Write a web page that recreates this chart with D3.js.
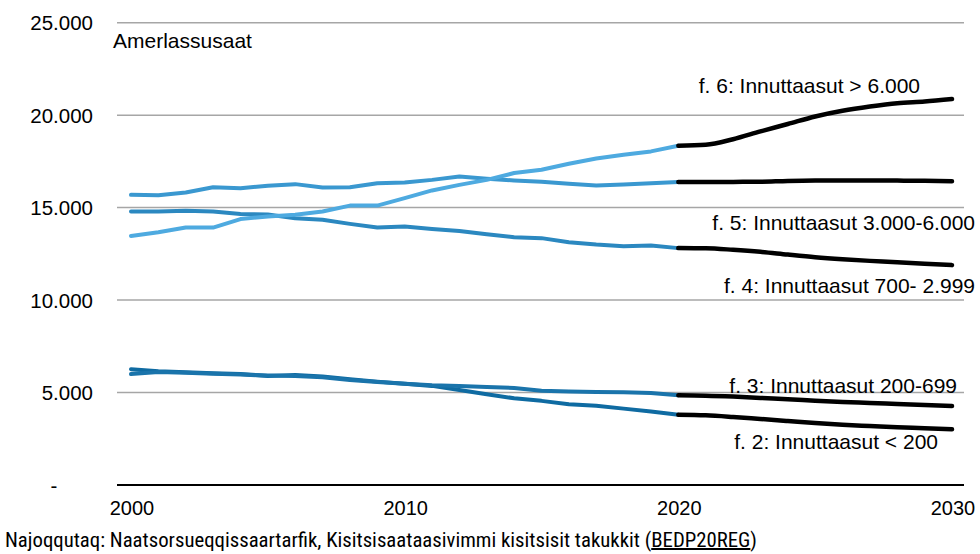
<!DOCTYPE html>
<html>
<head>
<meta charset="utf-8">
<script src="https://cdn.jsdelivr.net/npm/d3@7"></script>
<style>
    body { margin: 0; background: #fff; }
    svg { display: block; }
    text { font-family: "Liberation Sans", Arial, sans-serif; fill: #000; }
</style>
</head>
<body>
<svg id="chart" width="980" height="554"></svg>
<script>
// ====
// DATA
// ====
var histYears = d3.range(2000, 2021);
var projYears = d3.range(2020, 2031);
var yTicks = [0, 5000, 10000, 15000, 20000, 25000];
var xTicks = [2000, 2010, 2020, 2030];

// historic values 2000-2020
var hist6 = [13470, 13670, 13920, 13920, 14380, 14520, 14610, 14790, 15110, 15110, 15510, 15930, 16230, 16500, 16870, 17050, 17370, 17660, 17860, 18040, 18350];
var hist5 = [15690, 15670, 15820, 16100, 16050, 16180, 16270, 16090, 16100, 16320, 16360, 16500, 16680, 16560, 16470, 16400, 16290, 16200, 16250, 16320, 16380];
var hist4 = [14790, 14790, 14830, 14790, 14650, 14630, 14430, 14340, 14120, 13920, 13980, 13850, 13740, 13560, 13400, 13350, 13130, 13000, 12910, 12950, 12810];
var hist3 = [6000, 6110, 6070, 6020, 5970, 5920, 5900, 5830, 5680, 5570, 5470, 5390, 5360, 5300, 5250, 5100, 5050, 5030, 5020, 4980, 4850];
var hist2 = [6260, 6150, 6100, 6040, 6000, 5900, 5950, 5870, 5720, 5590, 5480, 5360, 5140, 4910, 4690, 4550, 4370, 4290, 4130, 3970, 3800];

// projections 2020-2030
var proj6 = [18350, 18400, 18700, 19120, 19520, 19930, 20240, 20470, 20650, 20740, 20870];
var proj5 = [16380, 16380, 16390, 16400, 16440, 16460, 16470, 16470, 16460, 16450, 16430];
var proj4 = [12810, 12800, 12720, 12610, 12460, 12320, 12210, 12120, 12050, 11960, 11890];
var proj3 = [4850, 4830, 4780, 4710, 4640, 4560, 4490, 4440, 4380, 4330, 4270];
var proj2 = [3800, 3770, 3680, 3570, 3460, 3350, 3260, 3190, 3120, 3070, 3010];

var seriesNames = ["f. 2: Innuttaasut < 200", "f. 3: Innuttaasut 200-699", "f. 4: Innuttaasut 700- 2.999", "f. 5: Innuttaasut 3.000-6.000", "f. 6: Innuttaasut > 6.000"];
var seriesColors = ["#0f6ba2", "#1a74ab", "#2b88c0", "#3a98d0", "#4eaae0"];

// ====
// MAIN
// ====
var svg = d3.select("#chart");

var x = d3.scalePoint().domain(d3.range(2000, 2031)).range([131, 952]);
var y = d3.scaleLinear().domain([0, 25000]).range([485, 22.7]);
var gridLeft = 117, gridRight = 964;

var fmt = function (v) {
    if (v === 0) return "-";
    return d3.format(",")(v).replace(/,/g, ".");
};

// gridlines
svg.append("g")
    .selectAll("line")
    .data(yTicks.filter(function (d) { return d > 0; }))
    .enter().append("line")
    .attr("x1", gridLeft)
    .attr("x2", gridRight)
    .attr("y1", function (d) { return y(d); })
    .attr("y2", function (d) { return y(d); })
    .attr("stroke", "#a6a6a6")
    .attr("stroke-width", 1.5);

// baseline
svg.append("line")
    .attr("x1", gridLeft)
    .attr("x2", gridRight)
    .attr("y1", y(0))
    .attr("y2", y(0))
    .attr("stroke", "#000")
    .attr("stroke-width", 2);

// y axis labels
svg.append("g")
    .selectAll("text")
    .data(yTicks)
    .enter().append("text")
    .attr("x", function (d) { return d === 0 ? 54 : 93; })
    .attr("y", function (d) { return y(d) + 7.5; })
    .attr("text-anchor", function (d) { return d === 0 ? "middle" : "end"; })
    .attr("font-size", "20.5px")
    .text(fmt);

// x axis labels
svg.append("g")
    .selectAll("text")
    .data(xTicks)
    .enter().append("text")
    .attr("x", function (d) { return x(d) + 1; })
    .attr("y", 515)
    .attr("text-anchor", "middle")
    .attr("font-size", "20px")
    .text(function (d) { return d; });

svg.append("text")
    .attr("x", 113)
    .attr("y", 48)
    .attr("font-size", "21px")
    .text("Amerlassusaat");

// lines
var line = function (years, curve) {
    return d3.line()
        .x(function (d, i) { return x(years[i]); })
        .y(function (d) { return y(d); })
        .curve(curve);
};

var hist = [hist2, hist3, hist4, hist5, hist6];
var proj = [proj2, proj3, proj4, proj5, proj6];

svg.append("g")
    .selectAll("path")
    .data(hist)
    .enter().append("path")
    .attr("d", line(histYears, d3.curveLinear))
    .attr("fill", "none")
    .attr("stroke", function (d, i) { return seriesColors[i]; })
    .attr("stroke-width", 4)
    .attr("stroke-linecap", "round")
    .attr("stroke-linejoin", "round");

svg.append("g")
    .selectAll("path")
    .data(proj)
    .enter().append("path")
    .attr("d", line(projYears, d3.curveMonotoneX))
    .attr("fill", "none")
    .attr("stroke", "#000")
    .attr("stroke-width", 4.5)
    .attr("stroke-linecap", "round")
    .attr("stroke-linejoin", "round");

// series labels (right-aligned near the line ends)
var labelPos = [
    { x: 938, y: 449 },
    { x: 957, y: 393 },
    { x: 975, y: 293 },
    { x: 975, y: 230 },
    { x: 920, y: 93 }
];

svg.append("g")
    .selectAll("text")
    .data(seriesNames)
    .enter().append("text")
    .attr("x", function (d, i) { return labelPos[i].x; })
    .attr("y", function (d, i) { return labelPos[i].y; })
    .attr("text-anchor", "end")
    .attr("font-size", "21px")
    .text(function (d) { return d; });

// source footer
var foot = svg.append("text")
    .attr("x", 5)
    .attr("y", 547)
    .attr("font-size", "20px")
    .attr("textLength", 752)
    .attr("lengthAdjust", "spacingAndGlyphs")
    .style("font-family", "'Liberation Sans Narrow', 'Roboto Condensed', 'Liberation Sans', sans-serif");
foot.append("tspan").text("Najoqqutaq: Naatsorsueqqissaartarfik, Kisitsisaataasivimmi kisitsisit takukkit (");
foot.append("tspan").attr("text-decoration", "underline").text("BEDP20REG");
foot.append("tspan").text(")");
</script>
</body>
</html>
